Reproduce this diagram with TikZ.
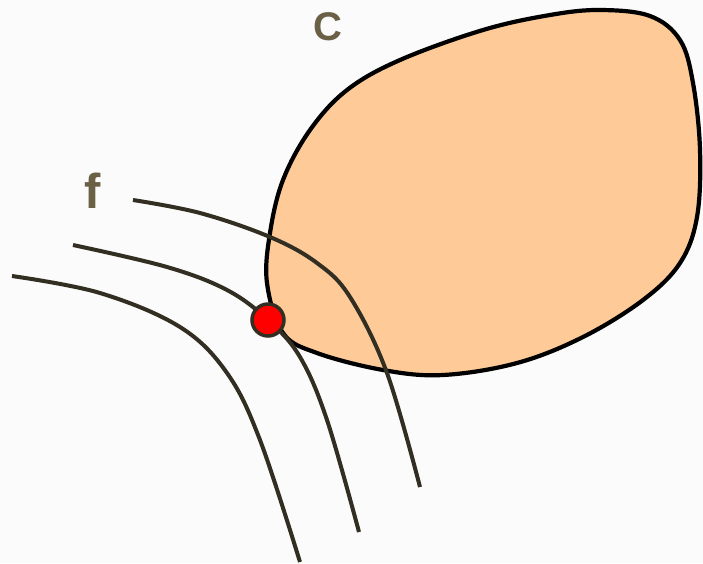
\documentclass[tikz,border=0pt]{standalone}
\usepackage{fontspec}
\setmainfont{Liberation Sans}
\newfontfamily\labfont{Liberation Sans Bold}
\definecolor{bg}{HTML}{FBFBFB}
\definecolor{peach}{HTML}{FECB98}
\definecolor{ink}{HTML}{332E22}
\definecolor{lbl}{HTML}{6B5F45}
\begin{document}
\begin{tikzpicture}[x=1pt,y=-1pt,
  curve/.style={draw=ink,line width=4pt,line cap=butt},
  region/.style={draw=black,line width=4.2pt,fill=peach},
  lab/.style={text=lbl,inner sep=0pt,anchor=base},
  dot/.style={circle,fill=red,draw=ink,line width=3.5pt,minimum size=32pt,inner sep=0pt}]
\fill[bg] (0,0) rectangle (703,563);
\useasboundingbox (0,0) rectangle (703,563);
% region C
\draw[region] plot[smooth cycle,tension=0.6] coordinates {
  (267,283) (270,233) (283,180) (310,130) (347,90) (400,60) (483,30)
  (550,15) (600,10) (650,16) (680,40) (693,83) (700,150) (697,217)
  (680,263) (643,300) (583,337) (517,363) (443,375) (383,370)
  (317,353) (283,333)};
% level curves of f
\draw[curve] plot[smooth,tension=0.6] coordinates {
  (133,200) (200,213) (270,237) (317,263) (350,297) (387,373) (420,487)};
\draw[curve] plot[smooth,tension=0.6] coordinates {
  (73,245) (167,267) (227,290) (268,320) (300,357) (327,420) (359,532)};
\draw[curve] plot[smooth,tension=0.6] coordinates {
  (12,276) (100,293) (180,327) (227,373) (260,440) (300,562)};
\node[dot] (p) at (268,320) {};
\node[lab,font=\labfont\fontsize{40}{40}\selectfont] (C) at (328,40) {C};
\node[lab,font=\labfont\fontsize{49}{49}\selectfont] (f) at (93,208) {f};
\end{tikzpicture}
\end{document}
